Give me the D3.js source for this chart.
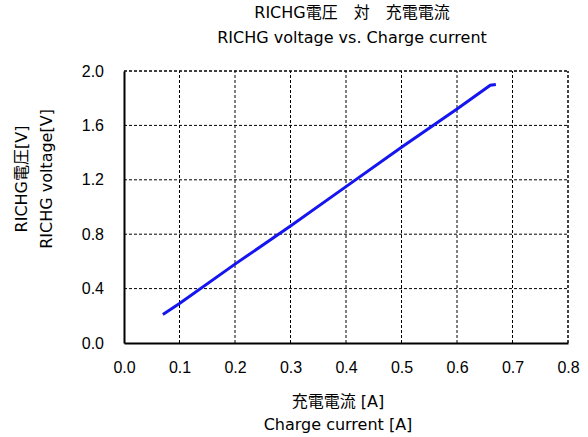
<!DOCTYPE html>
<html><head><meta charset="utf-8">
<script src="https://cdn.jsdelivr.net/npm/d3@7"></script>
<style>body{margin:0;background:#fff}svg{display:block}</style>
</head><body>
<script>
const titleLines = ["RICHG電圧　対　充電電流", "RICHG voltage vs. Charge current"];
const xTitleLines = ["充電電流 [A]", "Charge current [A]"];
const yTitleLines = ["RICHG電圧[V]", "RICHG voltage[V]"];
const xTicks = [0, 0.1, 0.2, 0.3, 0.4, 0.5, 0.6, 0.7, 0.8];
const yTicks = [0, 0.4, 0.8, 1.2, 1.6, 2.0];
const current = [0.07, 0.1, 0.2, 0.3, 0.4, 0.5, 0.6, 0.66, 0.67];
const voltage = [0.21, 0.29, 0.58, 0.86, 1.15, 1.44, 1.72, 1.895, 1.9];

const W = 588, H = 437;
const m = {left:124, right:20, top:71, bottom:94};
const tickFont = "'Liberation Sans', 'Noto Sans CJK JP', sans-serif";
const font = "'DejaVu Sans', 'Noto Sans CJK JP', sans-serif";
const svg = d3.select("body").append("svg").attr("width", W).attr("height", H);
const x = d3.scaleLinear().domain([0, 0.8]).range([m.left, W - m.right]);
const y = d3.scaleLinear().domain([0, 2.0]).range([H - m.bottom, m.top]);

// grid
svg.append("g").selectAll("line").data(xTicks.slice(1)).join("line")
  .attr("x1", d => x(d)).attr("x2", d => x(d)).attr("y1", y(0)).attr("y2", y(2))
  .attr("stroke", "#000").attr("stroke-width", d => d === 0.8 ? 1.5 : 1).attr("stroke-dasharray", "3,2");
svg.append("g").selectAll("line").data(yTicks.slice(1)).join("line")
  .attr("y1", d => y(d)).attr("y2", d => y(d)).attr("x1", x(0)).attr("x2", x(0.8))
  .attr("stroke", "#000").attr("stroke-width", d => d === 2.0 ? 1.5 : 1).attr("stroke-dasharray", "3,2");

// axes
const xAxis = svg.append("g").attr("transform", `translate(0,${y(0)})`)
  .call(d3.axisBottom(x).tickValues(xTicks).tickFormat(d3.format(".1f")).tickSize(0).tickPadding(19));
const yAxis = svg.append("g").attr("transform", `translate(${x(0)},0)`)
  .call(d3.axisLeft(y).tickValues(yTicks).tickFormat(d3.format(".1f")).tickSize(0).tickPadding(20));
[xAxis, yAxis].forEach(a => {
  a.select(".domain").attr("stroke", "#000").attr("stroke-width", 2);
  a.selectAll("text").attr("font-family", tickFont).attr("font-size", 16).attr("fill", "#000");
});

// line
const line = d3.line().x((d,i) => x(current[i])).y((d,i) => y(voltage[i]));
svg.append("path").datum(current).attr("d", line)
  .attr("fill", "none").attr("stroke", "#1515f0").attr("stroke-width", 3);

// titles
svg.append("g").selectAll("text").data(titleLines).join("text")
  .attr("x", 352).attr("y", (d,i) => 18 + i*25).attr("text-anchor", "middle")
  .attr("font-family", font).attr("font-size", 16).text(d => d);
svg.append("g").selectAll("text").data(xTitleLines).join("text")
  .attr("x", 338).attr("y", (d,i) => 407 + i*23).attr("text-anchor", "middle")
  .attr("font-family", font).attr("font-size", 16).text(d => d);
svg.append("g").selectAll("text").data(yTitleLines).join("text")
  .attr("transform", (d,i) => `translate(${27 + i*25},179) rotate(-90)`).attr("text-anchor", "middle")
  .attr("font-family", font).attr("font-size", 16).text(d => d);
</script>
</body></html>
